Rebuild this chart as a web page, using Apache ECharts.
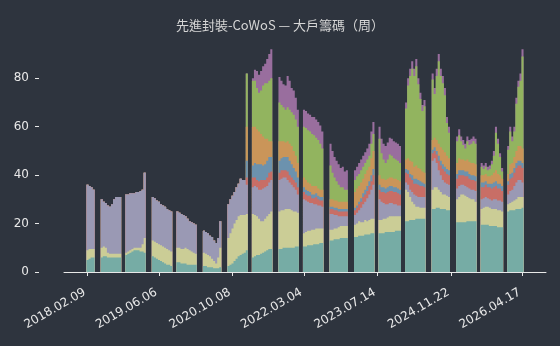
<!DOCTYPE html>
<html><head><meta charset="utf-8">
<script src="https://cdn.jsdelivr.net/npm/echarts@6/dist/echarts.min.js"></script>
<style>html,body{margin:0;padding:0;background:#2e343e}#c{width:560px;height:346px}</style>
</head><body><div id="c"></div>
<script>
const chartTitle = '先進封裝-CoWoS — 大戶籌碼（周）';
const tickLabels = ['2018.02.09','2019.06.06','2020.10.08','2022.03.04','2023.07.14','2024.11.22','2026.04.17'];
const tickWeeks = [0, 70, 142, 212, 284, 356, 426];
const yTicks = [0, 20, 40, 60, 80];
// observation segments in week numbers since 2018.02.09 (first, last); one bar per two weeks
const segments = [[0,6],[14,32],[38,56],[64,82],[88,106],[114,130],[138,156],[162,180],[188,206],[212,230],[238,254],[262,280],[286,306],[312,330],[338,354],[362,380],[386,406],[412,426]];
// axis range in weeks (first, last, step)
const axisRange = [-22, 448, 2];

const s1 = [[5,5.5,6,6],[6,6.5,6.5,6,6,6,6,6,6,6],[7,7.5,8,8.5,9,9,9,8.5,8.5,8],[6.5,6,5.5,5,4.5,4,3.5,3,3,2.5],[4,4,3.5,3.5,3.5,3,3,3,3,3],[2.5,2.5,2,2,2,1.5,1.5,1.5,2],[2.5,3,3.5,4.5,5.5,6.5,7,7.5,8,9],[6,6.5,7,7,7.5,8,8.5,9,9.5,9.5],[9.5,9.5,10,10,10,10,10,10,10.5,10.5],[10.5,10.5,11,11,11,11.5,11.5,11.5,12,12],[13,13,13.5,13.5,13.5,14,14,14,14],[14.5,14.5,15,15,15,15.5,15.5,15.5,16,16],[16,16,16,16.5,16.5,16.5,16.5,16.5,17,17,17],[21,21,21.5,21.5,21.5,22,22,22,22,22],[26,26,26.5,26.5,26,26,26,25.5,25.5],[20.5,20.5,20.5,20.5,20.5,21,21,21,21,21],[19.5,19.5,19.5,19.5,19,19,19,19,18.5,18.5,18.5],[25,25.5,25.5,25.5,26,26,26,26.5]];
const s2 = [[4,4,3.5,3.5],[4,4,3.5,2,1.5,1.5,1.5,1.5,1.5,1.5],[1,1,1,1,1,1,1,1.5,3,6],[6.5,6.5,6.5,6.5,6.5,6.5,6.5,6.5,6,6],[6,6,6,6,6.5,6.5,6,5.5,5,4.5],[5.5,5,5,4.5,3.5,3,2,4.5,8],[11.5,13,14.5,15.5,16,16.5,16.5,16,15.5,15],[18,17,16,15,13.5,13,13.5,14,14.5,15.5],[15.5,16,15.5,16,16,16,15.5,15,14.5,14],[5.5,6,6,6,6.5,6,6.5,6.5,6,6],[4.5,4.5,4.5,4.5,5,5,5,5,5],[5,5.5,6,5.5,5.5,6,5.5,6,6,6],[5.5,5.5,6,5.5,6,6.5,6.5,6.5,6,6,6],[13,12,9.5,7.5,6.5,5,5,4.5,4.5,4.5],[8,9,8.5,7.5,7,6,6,6,5.5],[9.5,10.5,11.5,11.5,11,10,9.5,9,9,8],[6.5,7,7.5,7.5,7.5,7,7,7,7,7,6.5],[3,3,3.5,4,4,5,5,4.5]];
const s3 = [[27,26,25.5,24.5],[20,18.5,18.5,19.5,19.5,20.5,22.5,23.5,23.5,23.5],[24,23.5,23.5,23,22.5,23,23,23.5,22.5,27],[18,18,17.5,17.5,17,17,17,16.5,16.5,16.5],[15,14.5,14.5,14,13,12.5,12,12,12,12],[9,9,9,8.5,9,8.5,8.5,8,11],[14,14,13.5,13,13.5,13.5,15,14.5,14.5,12],[11,12,12,12,13,13.5,13,12.5,13,13],[13,13,13.5,13,12,11,10.5,10,9,7.5],[14,13,12,11.5,11,10.5,10,9.5,9.5,9],[6.5,6.5,5.5,5.5,4.5,4,4,4,4],[4,4.5,4.5,6,7.5,7.5,9.5,10.5,12,14],[8.5,7.5,6.5,6,5.5,5.5,5.5,5,5,4.5,4.5],[3,3,3,4,4,4.5,4,4.5,4.5,4.5],[12,12,10,8,7,6,5,5,5],[4.5,4.5,4,4,4,4,4,4,4,4.5],[4,4,4,3.5,3.5,3.5,4,4,4,4,4],[4,5,5,6,7,7,7,6]];
const s4 = [[0,0,0,0],[0,0,0,0,0,0,0,0,0,0],[0,0,0,0,0,0,0,0,0,0],[0,0,0,0,0,0,0,0,0,0],[0,0,0,0,0,0,0,0,0,0],[0,0,0,0,0,0,0,0,0],[0,0,0,0,0,0,0,0,0,3],[4,3.5,3,3.5,4,3.5,3,3.5,4,3.5],[3,3.5,3,3,3.5,3,3,3,3,3],[3,2.5,2.5,3,2,2.5,3,2.5,2,2.5],[2,2,2,2,2,2,2,2,2],[2,2,2.5,2.5,3,3,3,3.5,3.5,4],[4,4,4.5,4.5,5,5,5,5,5,5,4.5],[4,4.5,5,5,4.5,5,5,4.5,4.5,4],[3,3,3.5,4,4,4.5,4.5,4,4],[4,4.5,4,4,4,4.5,4,4,4,4],[5,4.5,5,4.5,5,5,5,5.5,5,5,4.5],[4,5,5,5.5,6,6,6,6]];
const s5 = [[0,0,0,0],[0,0,0,0,0,0,0,0,0,0],[0,0,0,0,0,0,0,0,0,0],[0,0,0,0,0,0,0,0,0,0],[0,0,0,0,0,0,0,0,0,0],[0,0,0,0,0,0,0,0,0],[0,0,0,0,0,0,0,0,0,7],[5,6,6.5,7,6.5,6,6.5,7,6.5,6],[5,5,5.5,5.5,6,6,5.5,5,4.5,4],[2,2,2,1.5,1.5,1.5,1.5,1.5,1.5,1.5],[1,1,1,1,1,1,1,1,1],[1,1,1,1.5,1.5,2,2,2,2.5,2.5],[2,2,2,2,2,2,2,2,2,2,2],[1.5,1.5,1.5,2,2,2,2,2,1.5,1.5],[1.5,1.5,1.5,2,2,2,2,2,2],[2,2,2,2,2,2,2,2,2,2],[2,2,1.5,1.5,1.5,2,2,2,2,2,2],[1.5,2,2,2,2,2,2,2]];
const s6 = [[0,0,0,0],[0,0,0,0,0,0,0,0,0,0],[0,0,0,0,0,0,0,0,0,0],[0,0,0,0,0,0,0,0,0,0],[0,0,0,0,0,0,0,0,0,0],[0,0,0,0,0,0,0,0,0],[0,0,0,0,0,0,0,0,0,14],[16,15,14.5,13.5,12.5,12,10.5,9,6.5,6.5],[8,7,6.5,6,6.5,7,7.5,7,6.5,6],[4,4,3.5,3.5,3.5,3.5,3,3,3,3],[3,3,3,3,3,3,3,3,3],[6.5,7,6.5,6.5,6,6.5,6.5,6,7,7.5],[4,3.5,3.5,3.5,3.5,3.5,3.5,3.5,3.5,3.5,3.5],[4,5,5.5,5.5,5,5.5,5,5,4.5,4.5],[4,4,4.5,5,5.5,6,6,5.5,5],[4.5,5,4.5,4.5,4.5,5,5,5,5,5],[3,3,3,3,3,3.5,4,4.5,4,3.5,3],[3,4,4,4.5,5,6,6,6]];
const s7 = [[0,0,0,0],[0,0,0,0,0,0,0,0,0,0],[0,0,0,0,0,0,0,0,0,0],[0,0,0,0,0,0,0,0,0,0],[0,0,0,0,0,0,0,0,0,0],[0,0,0,0,0,0,0,0,0],[0,0,0,0,0,0,0,0,0,22],[19,19,17,16,18,21,23,23,25,26],[16,15,14,13.5,14,14,14,15,15,15],[21,21.5,21.5,21.5,21.5,21,20,20,19,17],[14,11,9.5,8,7,6,6,5,5],[5,5,5,5,5,4.5,4.5,4.5,6,7],[15,10.5,8,7,8,9.5,9,8.5,8,8,7.5],[21,30,35,38.5,37.5,41,34.5,29,25,27.5],[25,18,26.5,34,29.5,27.5,23.5,13.5,10.5],[9,9.5,7.5,6,5,7.5,7,8,9,8.5],[3.5,2.5,3,2.5,3,4.5,7,15.5,12.5,7.5,3],[10,13.5,9,10.5,19.5,24.5,27,38]];
const s8 = [[0,0,0,0],[0,0,0,0,0,0,0,0,0,0],[0,0,0,0,0,0,0,0,0,0],[0,0,0,0,0,0,0,0,0,0],[0,0,0,0,0,0,0,0,0,0],[0,0,0,0,0,0,0,0,0],[0,0,0,0,0,0,0,0,0,0],[1,4.5,7,7.5,8,8,8,10,11,12],[10.5,10,9.5,10,13,12,10,10,9,7],[7,7,7,7,7,7.5,7.5,7.5,7.5,7],[9,9,8.5,8.5,8.5,8,8.5,7.5,8],[4,4,4.5,4.5,4.5,4.5,4.5,5,5,5],[5,6,6.5,7,7,7,7,7,7,7,7],[2.5,3,3,3,3,3,2.5,2.5,2.5,2.5],[2.5,2.5,3,3,3,3,3,2.5,2.5],[2,2.5,2,2,2,2,2,2,2,2],[1.5,1.5,1.5,1.5,1.5,1.5,2,2.5,2,1.5,1.5],[1.5,2,2,2,2.5,2.5,3,3]];

const seriesNames = ['級距1','級距2','級距3','級距4','級距5','級距6','級距7','級距8'];
const seriesValues = [s1, s2, s3, s4, s5, s6, s7, s8];
const colors = ['#76aca5','#cbcd96','#9a99b4','#c86e66','#6c92ae','#ca9559','#92b45f','#996e9e'];

// category axis: every second week over the axis range
const axisWeeks = [];
for (let w = axisRange[0]; w <= axisRange[1]; w += axisRange[2]) axisWeeks.push(w);
const weeks = [];
segments.forEach(([a, b]) => { for (let w = a; w <= b; w += 2) weeks.push(w); });
const weekPos = new Map(weeks.map((w, i) => [w, i]));
const catName = w => 'w' + w;
const catWeek = s => Number(String(s).slice(1));

const layers = seriesValues.map((vals, k) => {
  const flat = vals.flat();
  if (flat.length !== weeks.length) console.warn('length mismatch', k, flat.length, weeks.length);
  return flat;
});
// stacked tops: each layer drawn from zero up to its cumulative top, top layer first
const stackedTops = layers.map((_, k) => axisWeeks.map(w => {
  const i = weekPos.get(w);
  if (i === undefined) return 0;
  let s = 0;
  for (let m = 0; m <= k; m++) s += layers[m][i];
  return s;
}));

const series = [];
for (let k = layers.length - 1; k >= 0; k--) {
  series.push({
    name: seriesNames[k], type: 'bar', xAxisIndex: 0, yAxisIndex: 0,
    large: true, largeThreshold: 50, barWidth: '100%', barGap: '-100%', barCategoryGap: '0%',
    silent: true, itemStyle: {color: colors[k]},
    data: stackedTops[k]
  });
}

const isTick = (idx, val) => tickWeeks.indexOf(catWeek(val)) >= 0;

const chart = echarts.init(document.getElementById('c'), null, {renderer: 'canvas'});
chart.setOption({
  backgroundColor: '#2e343e',
  animation: false,
  title: {text: chartTitle, left: 'center', top: 14,
    textStyle: {color: '#d6d6d6', fontSize: 13, fontWeight: 'normal', fontFamily: '"Noto Sans CJK TC", sans-serif'}},
  grid: [
    {left: 64, right: 14, top: 42, bottom: 74, outerBoundsMode: 'none'},
    {left: 39, right: 14, top: 42, bottom: 74, outerBoundsMode: 'none'}
  ],
  xAxis: [
    {type: 'category', gridIndex: 0, data: axisWeeks.map(catName), boundaryGap: true, splitLine: {show: false},
      axisLine: {show: true, onZero: false, lineStyle: {color: '#e8e8e8', width: 1}},
      axisTick: {show: true, length: 4, alignWithLabel: true, interval: isTick, lineStyle: {color: '#e8e8e8'}},
      axisLabel: {interval: isTick, rotate: 30, margin: 18, padding: [0, 3, 0, 0], color: '#e8e8e8', fontSize: 12, fontFamily: '"DejaVu Sans", sans-serif',
        formatter: v => { const i = tickWeeks.indexOf(catWeek(v)); return i >= 0 ? tickLabels[i] : ''; }}},
    {type: 'value', gridIndex: 1, min: 1, max: 2, show: false}
  ],
  yAxis: [
    {type: 'value', gridIndex: 0, min: 0, max: 95, show: false},
    {type: 'value', gridIndex: 1, position: 'left', min: 0, max: 95, splitLine: {show: false},
      axisLine: {show: false, onZero: false},
      axisTick: {show: true, length: 4, customValues: yTicks, lineStyle: {color: '#e8e8e8'}},
      axisLabel: {customValues: yTicks, margin: 10, color: '#e8e8e8', fontSize: 12, fontFamily: '"DejaVu Sans", sans-serif'}}
  ],
  series: series
});
</script></body></html>
